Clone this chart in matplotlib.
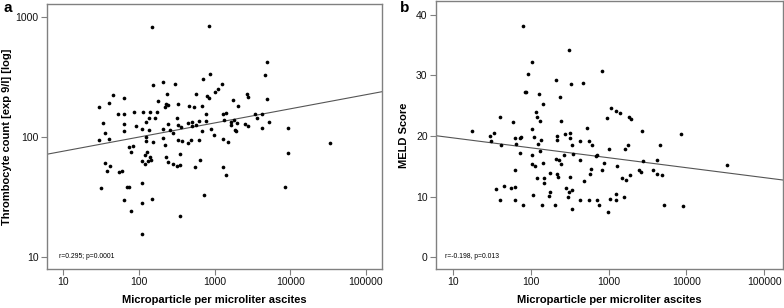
import numpy as np
import matplotlib
matplotlib.use("Agg")
import matplotlib.pyplot as plt
from matplotlib.ticker import NullLocator

# ============================================================
# DATA
# ============================================================

# panel a: microparticles per microliter ascites vs thrombocyte count
A_MP = [
    149, 855, 4900, 4700, 865, 210, 154, 298, 705, 1270, 1100, 1007,
    45.5, 63.5, 238, 575, 804, 847, 4950, 2690, 2775, 1740, 2065, 30,
    40, 181, 226, 241, 220, 326, 456, 541, 684, 52.5, 63.5, 87,
    114, 140, 175, 780, 1305, 1407, 3400, 4290, 3680, 33, 63, 125,
    137, 165, 319, 442, 504, 575, 625, 780, 332, 243, 1335, 1668,
    1652, 1828, 1985, 2510, 2800, 5200, 4250, 9370, 91, 108, 64, 136,
    357, 500, 908, 1925, 1868, 283, 207, 256, 995, 684, 122, 210,
    326, 372, 442, 489, 625, 1280, 1500, 125, 30, 40, 154, 9370,
    34000, 222, 73, 83, 79,
    127, 139, 146, 226, 350, 638, 119,
    243, 36, 41.5, 38, 54.6, 60, 108, 119, 131, 285, 322, 347,
    558, 1280, 1432, 31, 70, 74, 109, 63, 149, 108, 78, 734,
    353, 8630, 108, 36,
]
A_PLT = [
    826, 847, 422, 333, 337, 287, 271, 277, 304, 278, 253, 237,
    226, 214, 228, 230, 221, 214, 207, 228, 218, 206, 184, 179,
    193, 201, 191, 186, 178, 188, 184, 179, 181, 156, 157, 164,
    164, 164, 164, 155, 157, 159, 157, 157, 146, 131, 128, 135,
    145, 146, 144, 132, 134, 126, 136, 138, 126, 129, 140, 134,
    127, 140, 132, 128, 124, 134, 120, 119, 125, 117, 112, 115,
    121, 124, 118, 113, 116, 109, 117, 115, 104, 113, 100, 98,
    94.5, 92.7, 90, 94.5, 94.5, 97.5, 91, 92.5, 94.5, 96, 91.5, 74.5,
    90, 86, 82.5, 85, 76,
    75, 68.2, 65.2, 68.6, 73, 64.4, 71.3,
    62.7, 60.8, 58, 52.1, 51.2, 52.7, 63.5, 60.3, 63.1, 59.6, 58, 58.5,
    56.9, 56.9, 48.3, 37.6, 38.6, 38.6, 41.4, 29.9, 30.8, 28.2, 24.2, 32.9,
    22.2, 38.6, 15.7, 109,
]

# panel b: microparticles per microliter ascites vs MELD score
B_MP = [
    78, 308, 103, 92, 813, 84, 87, 327, 467, 208,
    127, 236, 141, 40, 59, 116, 119, 129, 245, 951,
    1080, 1230, 1385, 1809, 1937, 531, 104, 2660, 8450, 17.3,
    29.7, 33.4, 30.5, 41, 63, 72, 75, 65, 110, 123,
    134.5, 132, 213, 218, 276, 318, 318, 340, 421, 550,
    601, 1019, 1783, 1612, 4550, 72.8, 102, 349, 266, 687,
    707, 207, 226, 425, 4225, 241, 104.5, 113.5, 140.6, 871,
    1260, 2725, 63, 592, 827, 2454, 2582, 3660, 4150, 4810,
    33100, 176, 214, 224, 313, 566, 118, 147, 146, 481,
    1475, 1686, 1869,
    35.5, 45.6, 54.5, 63, 106, 171,
    173, 285, 306, 302, 340, 1230, 1565, 40, 62, 80,
    140, 201, 334, 427, 555, 701, 743, 966, 1031,
    1230, 5150, 9120,
]
B_MELD = [
    38.1, 34.2, 32.2, 30.3, 30.7, 27.2, 27.2, 28.6, 28.7, 29.3,
    27.0, 26.5, 25.3, 23.2, 22.3, 23.9, 23.1, 22.5, 22.5, 22.9,
    24.7, 24.2, 23.8, 23.1, 22.8, 21.4, 21.2, 20.8, 20.4, 20.8,
    20.0, 20.5, 19.2, 18.5, 19.7, 19.6, 19.9, 18.7, 19.8, 18.7,
    19.3, 17.6, 20.0, 19.3, 20.3, 20.5, 19.7, 18.6, 19.2, 19.1,
    18.5, 17.9, 18.5, 17.8, 18.6, 17.2, 16.9, 17.1, 16.9, 16.7,
    16.9, 16.2, 16.1, 16.1, 16.1, 15.4, 15.4, 15.1, 15.6, 15.5,
    15.1, 15.8, 14.4, 14.6, 14.4, 14.4, 14.1, 14.4, 13.8, 13.5,
    15.2, 13.9, 13.7, 13.3, 13.3, 13.7, 13.0, 13.0, 12.2, 12.5,
    13.0, 12.7, 13.5,
    11.3, 11.8, 11.5, 11.6, 10.3, 10.1,
    10.7, 11.4, 10.7, 10.0, 11.1, 10.4, 10.0, 9.4, 9.4, 8.6,
    8.6, 8.6, 8.0, 9.4, 9.5, 9.5, 8.6, 7.4, 9.6,
    9.5, 8.6, 8.5,
]

# regression lines (end points at the axis edges)
FIT_A_X = [6.08, 164000]
FIT_A_Y = [72.3, 240]
FIT_B_X = [5.99, 173000]
FIT_B_Y = [20.05, 12.75]

X_TICKS = [10, 100, 1000, 10000, 100000]
X_TICKLABELS = ["10", "100", "1000", "10000", "100000"]
A_YTICKS = [10, 100, 1000]
A_YTICKLABELS = ["10", "100", "1000"]
B_YTICKS = [0, 10, 20, 30, 40]
B_YTICKLABELS = ["0", "10", "20", "30", "40"]

X_LABEL = "Microparticle per microliter ascites"
A_YLABEL = "Thrombocyte count [exp 9/l] [log]"
B_YLABEL = "MELD Score"
A_STAT = "r=0.295; p=0.0001"
B_STAT = "r=-0.198, p=0.013"


# ============================================================
# STYLE
# ============================================================

plt.rcParams["font.family"] = ["Liberation Sans", "DejaVu Sans"]

SPINE_COLOR = "#808080"
LINE_COLOR = "#555555"
TICK_SIZE = 7.5
LABEL_SIZE = 8
DOT_SIZE = 7


def style_axes(ax):
    for side in ["left", "right", "top", "bottom"]:
        ax.spines[side].set_color(SPINE_COLOR)
        ax.spines[side].set_linewidth(1.0)
    ax.tick_params(
        axis="both",
        which="major",
        direction="out",
        length=4,
        width=0.8,
        color=SPINE_COLOR,
        labelsize=TICK_SIZE,
        pad=2,
        labelcolor="#111111",
    )
    ax.tick_params(top=False, right=False)


# ============================================================
# FIGURE
# ============================================================

fig = plt.figure(figsize=(7.84, 3.08), dpi=100)

ax_a = fig.add_axes([0.0600, 0.1266, 0.4273, 0.8604])
ax_b = fig.add_axes([0.5561, 0.1266, 0.4422, 0.8701])

# ---- panel a ----
ax_a.scatter(A_MP, A_PLT, s=DOT_SIZE, c="black", linewidths=0, zorder=3)
ax_a.plot(FIT_A_X, FIT_A_Y, color=LINE_COLOR, linewidth=0.8, zorder=2)
ax_a.set_xscale("log")
ax_a.set_yscale("log")
ax_a.set_xlim(6.08, 164000)
ax_a.set_ylim(7.99, 1291)
ax_a.set_xticks(X_TICKS)
ax_a.set_xticklabels(X_TICKLABELS)
ax_a.set_yticks(A_YTICKS)
ax_a.set_yticklabels(A_YTICKLABELS)
ax_a.xaxis.set_minor_locator(NullLocator())
ax_a.yaxis.set_minor_locator(NullLocator())
style_axes(ax_a)
ax_a.set_xlabel(X_LABEL, fontsize=LABEL_SIZE, fontweight="bold")
ax_a.set_ylabel(A_YLABEL, fontsize=LABEL_SIZE, fontweight="bold")
ax_a.xaxis.set_label_coords(0.5, -0.098)
ax_a.yaxis.set_label_coords(-0.104, 0.5)
ax_a.text(0.036, 0.049, A_STAT, transform=ax_a.transAxes,
          fontsize=4.9, va="center", ha="left")

# ---- panel b ----
ax_b.scatter(B_MP, B_MELD, s=DOT_SIZE, c="black", linewidths=0, zorder=3)
ax_b.plot(FIT_B_X, FIT_B_Y, color=LINE_COLOR, linewidth=0.8, zorder=2)
ax_b.set_xscale("log")
ax_b.set_xlim(5.99, 173000)
ax_b.set_ylim(-1.93, 42.26)
ax_b.set_xticks(X_TICKS)
ax_b.set_xticklabels(X_TICKLABELS)
ax_b.set_yticks(B_YTICKS)
ax_b.set_yticklabels(B_YTICKLABELS)
ax_b.xaxis.set_minor_locator(NullLocator())
style_axes(ax_b)
ax_b.set_xlabel(X_LABEL, fontsize=LABEL_SIZE, fontweight="bold")
ax_b.set_ylabel(B_YLABEL, fontsize=LABEL_SIZE, fontweight="bold")
ax_b.xaxis.set_label_coords(0.5, -0.097)
ax_b.yaxis.set_label_coords(-0.078, 0.5)
ax_b.text(0.026, 0.045, B_STAT, transform=ax_b.transAxes,
          fontsize=4.9, va="center", ha="left")

# ---- panel letters ----
fig.text(3 / 784, 1 - 8.5 / 308, "a", fontsize=11, fontweight="bold",
         va="center", ha="left")
fig.text(400 / 784, 1 - 8.5 / 308, "b", fontsize=11, fontweight="bold",
         va="center", ha="left")

fig.savefig("out.png", dpi=100)
plt.close(fig)
